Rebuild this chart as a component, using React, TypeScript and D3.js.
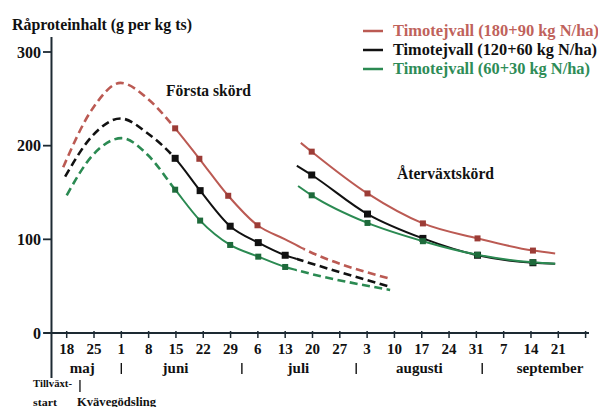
import React from 'react';
import * as d3 from 'd3';

const W = 598;
const H = 407;

// Days counted from 18 May
const weekTickLabels = ["18","25","1","8","15","22","29","6","13","20","27","3","10","17","24","31","7","14","21",""];
const monthNames = ["maj", "juni", "juli", "augusti", "september"];
const monthLabelDays = [4, 27.9, 59.4, 90.4, 123.9];
const monthBoundaryDays = [14, 44.9, 74.2, 106.5];
const growthStartDay = -3.9;
const fertilizationDay = 3.4;
const yTicks = [0, 100, 200, 300];

const legendLabels = [
  "Timotejvall (180+90 kg N/ha)",
  "Timotejvall (120+60 kg N/ha)",
  "Timotejvall (60+30 kg N/ha)",
];
const legendWidths = [206, 204, 197];

// First harvest (Första skörd)
const redFirstDays = [-0.9, 6.7, 13.8, 20.8, 27.8, 34.0, 41.4, 48.9, 56.0, 60.6, 82.4];
const redFirstValues = [177, 240, 267, 250, 218.5, 186, 146.5, 115, 100, 90, 58.5];
const redFirstMarkers = [27.8, 34.0, 41.4, 48.9];
const redFirstSolid = [27.8, 60.6];

const blackFirstDays = [-0.4, 6.7, 13.8, 20.8, 27.8, 34.2, 41.9, 49.1, 56.0, 59.0, 82.4];
const blackFirstValues = [167, 211, 229, 213, 186.5, 152, 114, 96.5, 83, 79, 50];
const blackFirstMarkers = [27.8, 34.2, 41.9, 49.1, 56.0];
const blackFirstSolid = [27.8, 59.0];

const greenFirstDays = [0, 6.7, 14.1, 20.8, 27.8, 34.2, 41.9, 49.1, 56.0, 59.0, 82.9];
const greenFirstValues = [147, 190, 208, 190, 153, 120, 94, 81.5, 70.5, 67, 46];
const greenFirstMarkers = [27.8, 34.2, 41.9, 49.1, 56.0];
const greenFirstSolid = [27.8, 59.0];

// Regrowth (Återväxtskörd)
const redRegrowthDays = [60.0, 62.8, 77.1, 91.3, 105.3, 119.5, 125.2];
const redRegrowthValues = [203, 193.6, 149, 117, 101, 88, 85];
const blackRegrowthDays = [59.0, 62.8, 77.1, 91.3, 105.3, 119.5, 125.2];
const blackRegrowthValues = [178.6, 168.7, 127, 101, 83, 75, 74];
const greenRegrowthDays = [59.3, 62.8, 77.1, 91.3, 105.3, 119.5, 125.2];
const greenRegrowthValues = [157, 147, 117.5, 98, 83.5, 75.5, 74];
const regrowthMarkerIdx = [1, 2, 3, 4, 5];

const RED = "#bb5a53";
const RED_M = "#9c3c36";
const BLACK = "#111111";
const GREEN = "#2b8a52";
const GREEN_M = "#1e6a3b";
const AXIS = "#1d2a33";
const FONT = '"Liberation Serif"';

const x = d3.scaleLinear().domain([0, 133]).range([66.7, 585.6]);
const y = d3.scaleLinear().domain([0, 300]).range([333, 52]);

const line = d3
  .line<[number, number]>()
  .x((d) => x(d[0]))
  .y((d) => y(d[1]))
  .curve(d3.curveMonotoneX);

const zip = (a: number[], b: number[]) => a.map((v, i) => [v, b[i]] as [number, number]);

const first = [
  { id: "r", color: RED, mcolor: RED_M, days: redFirstDays, values: redFirstValues, markers: redFirstMarkers, solid: redFirstSolid, ms: 6 },
  { id: "k", color: BLACK, mcolor: BLACK, days: blackFirstDays, values: blackFirstValues, markers: blackFirstMarkers, solid: blackFirstSolid, ms: 7 },
  { id: "g", color: GREEN, mcolor: GREEN_M, days: greenFirstDays, values: greenFirstValues, markers: greenFirstMarkers, solid: greenFirstSolid, ms: 6 },
];

const regrowth = [
  { id: "r", color: RED, mcolor: RED_M, days: redRegrowthDays, values: redRegrowthValues, ms: 6 },
  { id: "k", color: BLACK, mcolor: BLACK, days: blackRegrowthDays, values: blackRegrowthValues, ms: 7 },
  { id: "g", color: GREEN, mcolor: GREEN_M, days: greenRegrowthDays, values: greenRegrowthValues, ms: 6 },
];

const legendColors = [RED, BLACK, GREEN];
const legendTextColors = ["#c0625b", "#111111", "#2e8c57"];

const txt: React.CSSProperties = { fontFamily: FONT, fontWeight: 700 };

export default function App() {
  const interp = (days: number[], values: number[], d: number) => {
    for (let i = 0; i < days.length - 1; i++) {
      if (d >= days[i] && d <= days[i + 1]) {
        const t = (d - days[i]) / (days[i + 1] - days[i]);
        return values[i] + t * (values[i + 1] - values[i]);
      }
    }
    return values[values.length - 1];
  };
  const weekDays = weekTickLabels.map((_, i) => i * 7);
  const yAxisX = x(growthStartDay);

  return (
    <svg width={W} height={H} style={{ position: "absolute", left: 0, top: 0, background: "#fff" }}>
      <defs>
        {first.map((s) => (
          <React.Fragment key={s.id}>
            <clipPath id={`solid-${s.id}`}>
              <rect x={x(s.solid[0])} y={0} width={x(s.solid[1]) - x(s.solid[0])} height={H} />
            </clipPath>
            <clipPath id={`dash-${s.id}`}>
              <rect x={0} y={0} width={x(s.solid[0])} height={H} />
              <rect x={x(s.solid[1])} y={0} width={W - x(s.solid[1])} height={H} />
            </clipPath>
          </React.Fragment>
        ))}
      </defs>

      {/* Title */}
      <text x={12} y={30} fontSize={16} style={txt} fill="#111" textLength={180} lengthAdjust="spacingAndGlyphs">
        Råproteinhalt (g per kg ts)
      </text>

      {/* Y axis */}
      <line x1={yAxisX} x2={yAxisX} y1={37} y2={378} stroke={AXIS} strokeWidth={2} />
      {yTicks.map((t) => (
        <g key={t}>
          <line x1={43} x2={yAxisX} y1={y(t)} y2={y(t)} stroke={AXIS} strokeWidth={1.8} />
          <text x={41} y={y(t)} dy="0.36em" textAnchor="end" fontSize={16} style={txt} fill="#111">
            {t}
          </text>
        </g>
      ))}

      {/* X axis */}
      <line x1={44} x2={589} y1={y(0)} y2={y(0)} stroke={AXIS} strokeWidth={2} />
      {weekDays.map((d, i) => (
        <g key={i}>
          <line x1={x(d)} x2={x(d)} y1={y(0) - 2} y2={y(0) + 5} stroke={AXIS} strokeWidth={1.5} />
          {weekTickLabels[i] && (
            <text x={x(d)} y={353.5} textAnchor="middle" fontSize={15} style={txt} fill="#111">
              {weekTickLabels[i]}
            </text>
          )}
        </g>
      ))}
      {monthNames.map((m, i) => (
        <text key={m} x={x(monthLabelDays[i])} y={373} textAnchor="middle" fontSize={15} style={txt} fill="#111">
          {m}
        </text>
      ))}
      {monthBoundaryDays.map((d, i) => (
        <line key={i} x1={x(d)} x2={x(d)} y1={363} y2={374} stroke="#111" strokeWidth={1.4} />
      ))}

      {/* Growth start / fertilization */}
      <line x1={x(fertilizationDay)} x2={x(fertilizationDay)} y1={380} y2={392} stroke="#111" strokeWidth={1.3} />
      <text x={33} y={386.5} fontSize={11} style={txt} fill="#111" textLength={39} lengthAdjust="spacingAndGlyphs">
        Tillväxt-
      </text>
      <text x={33} y={405.5} fontSize={11} style={txt} fill="#111" textLength={24} lengthAdjust="spacingAndGlyphs">
        start
      </text>
      <text x={77} y={405.5} fontSize={11.5} style={txt} fill="#111" textLength={79} lengthAdjust="spacingAndGlyphs">
        Kvävegödsling
      </text>

      {/* Annotations */}
      <text x={166} y={96} fontSize={16} style={txt} fill="#111" textLength={85} lengthAdjust="spacingAndGlyphs">Första skörd</text>
      <text x={397} y={179} fontSize={16} style={txt} fill="#111" textLength={97} lengthAdjust="spacingAndGlyphs">Återväxtskörd</text>

      {/* First harvest */}
      {first.map((s) => {
        const d = line(zip(s.days, s.values)) || "";
        return (
          <g key={`f-${s.id}`}>
            <path d={d} fill="none" stroke={s.color} strokeWidth={2.6} strokeDasharray="8 4.5" clipPath={`url(#dash-${s.id})`} />
            <path d={d} fill="none" stroke={s.color} strokeWidth={2} clipPath={`url(#solid-${s.id})`} />
            {s.markers.map((md) => (
              <rect
                key={md}
                x={x(md) - s.ms / 2}
                y={y(interp(s.days, s.values, md)) - s.ms / 2}
                width={s.ms}
                height={s.ms}
                fill={s.mcolor}
              />
            ))}
          </g>
        );
      })}

      {/* Regrowth */}
      {regrowth.map((s) => (
        <g key={`r-${s.id}`}>
          <path d={line(zip(s.days, s.values)) || ""} fill="none" stroke={s.color} strokeWidth={2} />
          {regrowthMarkerIdx.map((i) => (
            <rect
              key={i}
              x={x(s.days[i]) - s.ms / 2}
              y={y(s.values[i]) - s.ms / 2}
              width={s.ms}
              height={s.ms}
              fill={s.mcolor}
            />
          ))}
        </g>
      ))}

      {/* Legend */}
      {legendLabels.map((l, i) => (
        <g key={l}>
          <line x1={363} x2={383} y1={31 + i * 19} y2={31 + i * 19} stroke={legendColors[i]} strokeWidth={2.5} />
          <text x={393} y={36 + i * 19} fontSize={16} style={txt} fill={legendTextColors[i]} textLength={legendWidths[i]} lengthAdjust="spacingAndGlyphs">
            {l}
          </text>
        </g>
      ))}
    </svg>
  );
}
